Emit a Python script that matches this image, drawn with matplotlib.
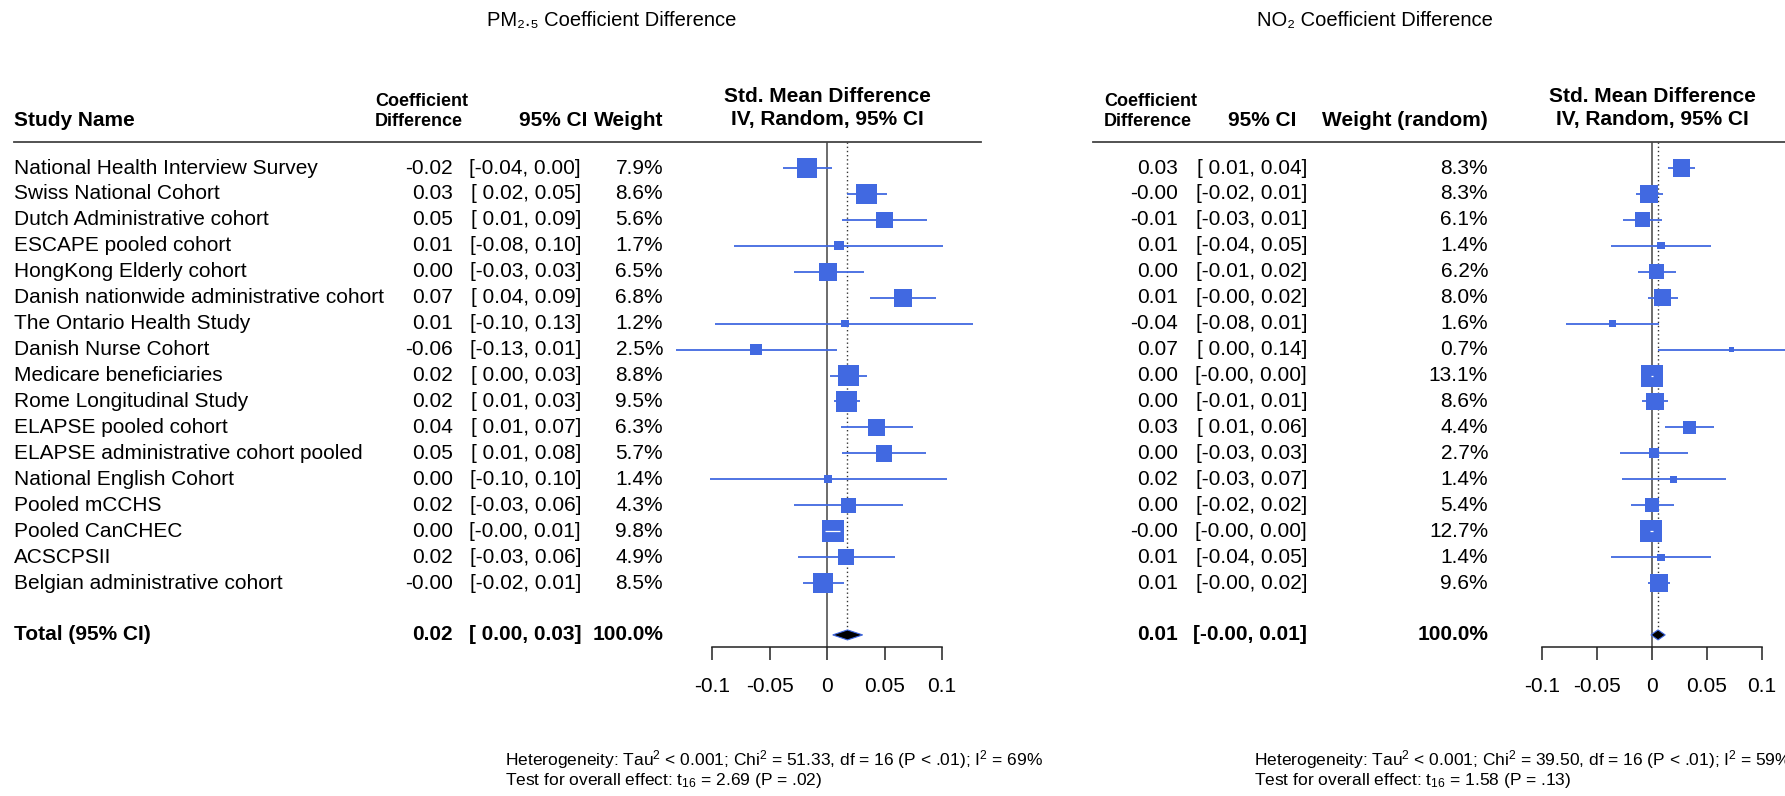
import numpy as np
import matplotlib
matplotlib.use("Agg")
import matplotlib.pyplot as plt
from matplotlib.transforms import blended_transform_factory
from matplotlib.lines import Line2D

plt.rcParams["font.family"] = ["Liberation Sans", "DejaVu Sans"]
plt.rcParams["mathtext.fontset"] = "custom"
plt.rcParams["mathtext.rm"] = "Liberation Sans"
plt.rcParams["mathtext.it"] = "Liberation Sans"

W, H = 1785, 796

studies = [
    "National Health Interview Survey", "Swiss National Cohort",
    "Dutch Administrative cohort", "ESCAPE pooled cohort",
    "HongKong Elderly cohort", "Danish nationwide administrative cohort",
    "The Ontario Health Study", "Danish Nurse Cohort",
    "Medicare beneficiaries", "Rome Longitudinal Study",
    "ELAPSE pooled cohort", "ELAPSE administrative cohort pooled",
    "National English Cohort", "Pooled mCCHS", "Pooled CanCHEC",
    "ACSCPSII", "Belgian administrative cohort",
]

# PM2.5 panel
pm_est = [-0.0175, 0.0345, 0.050, 0.0104, 0.001, 0.066, 0.0157, -0.0617, 0.0186,
          0.017, 0.043, 0.0496, 0.001, 0.0186, 0.0055, 0.0165, -0.0037]
pm_lo = [-0.038, 0.017, 0.013, -0.081, -0.029, 0.037, -0.097, -0.131, 0.0026,
         0.0064, 0.012, 0.013, -0.102, -0.029, -0.002, -0.025, -0.021]
pm_hi = [0.004, 0.052, 0.087, 0.101, 0.032, 0.095, 0.127, 0.009, 0.035,
         0.0287, 0.075, 0.086, 0.104, 0.066, 0.011, 0.059, 0.015]
pm_weight = [7.9, 8.6, 5.6, 1.7, 6.5, 6.8, 1.2, 2.5, 8.8, 9.5, 6.3, 5.7, 1.4, 4.3, 9.8, 4.9, 8.5]
pm_coef_txt = ["-0.02", "0.03", "0.05", "0.01", "0.00", "0.07", "0.01", "-0.06", "0.02",
               "0.02", "0.04", "0.05", "0.00", "0.02", "0.00", "0.02", "-0.00"]
pm_ci_txt = ["[-0.04, 0.00]", "[ 0.02, 0.05]", "[ 0.01, 0.09]", "[-0.08, 0.10]",
             "[-0.03, 0.03]", "[ 0.04, 0.09]", "[-0.10, 0.13]", "[-0.13, 0.01]",
             "[ 0.00, 0.03]", "[ 0.01, 0.03]", "[ 0.01, 0.07]", "[ 0.01, 0.08]",
             "[-0.10, 0.10]", "[-0.03, 0.06]", "[-0.00, 0.01]", "[-0.03, 0.06]",
             "[-0.02, 0.01]"]
pm_total = [0.0178, 0.005, 0.031]
pm_total_txt = ["0.02", "[ 0.00, 0.03]", "100.0%"]
pm_het = ["Heterogeneity: Tau$^2$ < 0.001; Chi$^2$ = 51.33, df = 16 (P < .01); I$^2$ = 69%",
          "Test for overall effect: t$_{16}$ = 2.69 (P = .02)"]

# NO2 panel
no_est = [0.0267, -0.0027, -0.0085, 0.0082, 0.0042, 0.0097, -0.036, 0.0724, 0.000,
          0.0027, 0.034, 0.0021, 0.0194, 0.000, -0.001, 0.0082, 0.0064]
no_lo = [0.0148, -0.015, -0.026, -0.0376, -0.0124, -0.0033, -0.0785, 0.0052, -0.001,
         -0.0094, 0.0118, -0.029, -0.027, -0.019, -0.002, -0.0376, -0.004]
no_hi = [0.039, 0.0097, 0.0088, 0.054, 0.0215, 0.0233, 0.0067, 0.14, 0.001,
         0.0148, 0.0566, 0.033, 0.067, 0.0197, 0.001, 0.054, 0.0164]
no_weight = [8.3, 8.3, 6.1, 1.4, 6.2, 8.0, 1.6, 0.7, 13.1, 8.6, 4.4, 2.7, 1.4, 5.4, 12.7, 1.4, 9.6]
no_coef_txt = ["0.03", "-0.00", "-0.01", "0.01", "0.00", "0.01", "-0.04", "0.07", "0.00",
               "0.00", "0.03", "0.00", "0.02", "0.00", "-0.00", "0.01", "0.01"]
no_ci_txt = ["[ 0.01, 0.04]", "[-0.02, 0.01]", "[-0.03, 0.01]", "[-0.04, 0.05]",
             "[-0.01, 0.02]", "[-0.00, 0.02]", "[-0.08, 0.01]", "[ 0.00, 0.14]",
             "[-0.00, 0.00]", "[-0.01, 0.01]", "[ 0.01, 0.06]", "[-0.03, 0.03]",
             "[-0.03, 0.07]", "[-0.02, 0.02]", "[-0.00, 0.00]", "[-0.04, 0.05]",
             "[-0.00, 0.02]"]
no_total = [0.0055, -0.001, 0.012]
no_total_txt = ["0.01", "[-0.00, 0.01]", "100.0%"]
no_het = ["Heterogeneity: Tau$^2$ < 0.001; Chi$^2$ = 39.50, df = 16 (P < .01); I$^2$ = 59%",
          "Test for overall effect: t$_{16}$ = 1.58 (P = .13)"]

ticks = [-0.1, -0.05, 0, 0.05, 0.1]
tick_labels = ["-0.1", "-0.05", "0", "0.05", "0.1"]

BLUE = "#4169E1"
FS = 15

fig = plt.figure(figsize=(W / 100, H / 100), dpi=100)


def fx(px):
    return px / W


def fy(py):
    return 1 - py / H


def panel(zero_px, scale, title, title_x, cols, est, lo, hi, weight, coef_txt, ci_txt,
          total, total_txt, het, het_x, sep, names=None):
    n = len(est)
    row0, step = 168, 25.94
    top, bottom = 142, 647
    xl = (-0.14, 0.14)
    left = zero_px + xl[0] * scale
    width = (xl[1] - xl[0]) * scale
    ax = fig.add_axes([fx(left), fy(bottom), width / W, (bottom - top) / H])
    ax.set_xlim(xl)
    ytop = (top - row0) / step
    ybot = (bottom - row0) / step
    ax.set_ylim(ybot, ytop)
    ax.patch.set_visible(False)
    for s in ["left", "right", "top"]:
        ax.spines[s].set_visible(False)
    ax.spines["bottom"].set_bounds(-0.1, 0.1)
    ax.spines["bottom"].set_linewidth(1.1)
    ax.spines["bottom"].set_color("#222222")
    ax.set_yticks([])
    ax.set_xticks(ticks)
    ax.set_xticklabels(tick_labels, fontsize=FS)
    ax.tick_params(axis="x", length=9.5, width=1.1, pad=12, color="#222222")

    ytot = n + 1
    ax.axvline(0, color="#444444", lw=1.1, zorder=1)
    ax.plot([total[0], total[0]], [ytop, ytot], color="#333333", lw=1.0,
            ls=(0, (1, 2)), zorder=1)

    y = np.arange(n)
    wmax = max(weight)
    side_px = 22 * np.sqrt(np.array(weight) / wmax)
    ax.hlines(y, lo, hi, color=BLUE, lw=1.3, zorder=2, clip_on=False)
    ax.scatter(est, y, marker="s", s=(side_px * 0.72) ** 2, color=BLUE,
               edgecolors="none", zorder=3, clip_on=False)
    # CI fully inside the square is drawn in white
    for i in range(n):
        if (hi[i] - lo[i]) * scale < side_px[i]:
            ax.hlines(i, lo[i], hi[i], color="white", lw=0.9, zorder=4)

    hh = 5 / step
    ax.fill([total[1], total[0], total[2], total[0]],
            [ytot, ytot - hh, ytot, ytot + hh], facecolor="black",
            edgecolor=BLUE, lw=0.8, zorder=4)

    tr = blended_transform_factory(fig.transFigure, ax.transData)
    for i in range(n):
        if names is not None:
            ax.text(fx(14), i, names[i], transform=tr, fontsize=FS, va="center", ha="left")
        ax.text(fx(cols[0]), i, coef_txt[i], transform=tr, fontsize=FS, va="center", ha="right")
        ax.text(fx(cols[1]), i, ci_txt[i], transform=tr, fontsize=FS, va="center", ha="right")
        ax.text(fx(cols[2]), i, "%.1f%%" % weight[i], transform=tr, fontsize=FS,
                va="center", ha="right")
    if names is not None:
        ax.text(fx(14), ytot, "Total (95% CI)", transform=tr, fontsize=FS,
                va="center", ha="left", weight="bold")
    for c, t in zip(cols, total_txt):
        ax.text(fx(c), ytot, t, transform=tr, fontsize=FS, va="center", ha="right",
                weight="bold")

    fig.add_artist(Line2D([fx(sep[0]), fx(sep[1])], [fy(top), fy(top)],
                          color="#444444", lw=1.3))
    fig.text(fx(title_x), fy(20), title, fontsize=14.5, ha="center", va="center")

    hdr = dict(fontsize=FS, weight="bold", va="center")
    if names is not None:
        fig.text(fx(14), fy(120), "Study Name", ha="left", **hdr)
    fig.text(fx(cols[3]), fy(101), "Coefficient", ha="left", fontsize=13,
             weight="bold", va="center")
    fig.text(fx(cols[3]), fy(121), "Difference", ha="left", fontsize=13,
             weight="bold", va="center")
    fig.text(fx(cols[4]), fy(120), "95% CI", ha="right", **hdr)
    fig.text(fx(cols[2]), fy(120), cols[5], ha="right", **hdr)
    fig.text(fx(zero_px), fy(97), "Std. Mean Difference", ha="center", **hdr)
    fig.text(fx(zero_px), fy(120), "IV, Random, 95% CI", ha="center", **hdr)

    fig.text(fx(het_x), fy(760), het[0], fontsize=12.5, ha="left", va="center")
    fig.text(fx(het_x), fy(780), het[1], fontsize=12.5, ha="left", va="center")


panel(827, 1150, "PM\u2082.\u2085 Coefficient Difference", 612,
      [453, 581, 663, 375, 587, "Weight"],
      pm_est, pm_lo, pm_hi, pm_weight, pm_coef_txt, pm_ci_txt,
      pm_total, pm_total_txt, pm_het, 505, (14, 981), names=studies)

panel(1652, 1100, "NO\u2082 Coefficient Difference", 1375,
      [1178, 1307, 1488, 1104, 1296, "Weight (random)"],
      no_est, no_lo, no_hi, no_weight, no_coef_txt, no_ci_txt,
      no_total, no_total_txt, no_het, 1254, (1093, 1785))

fig.savefig("out.png", dpi=100)
